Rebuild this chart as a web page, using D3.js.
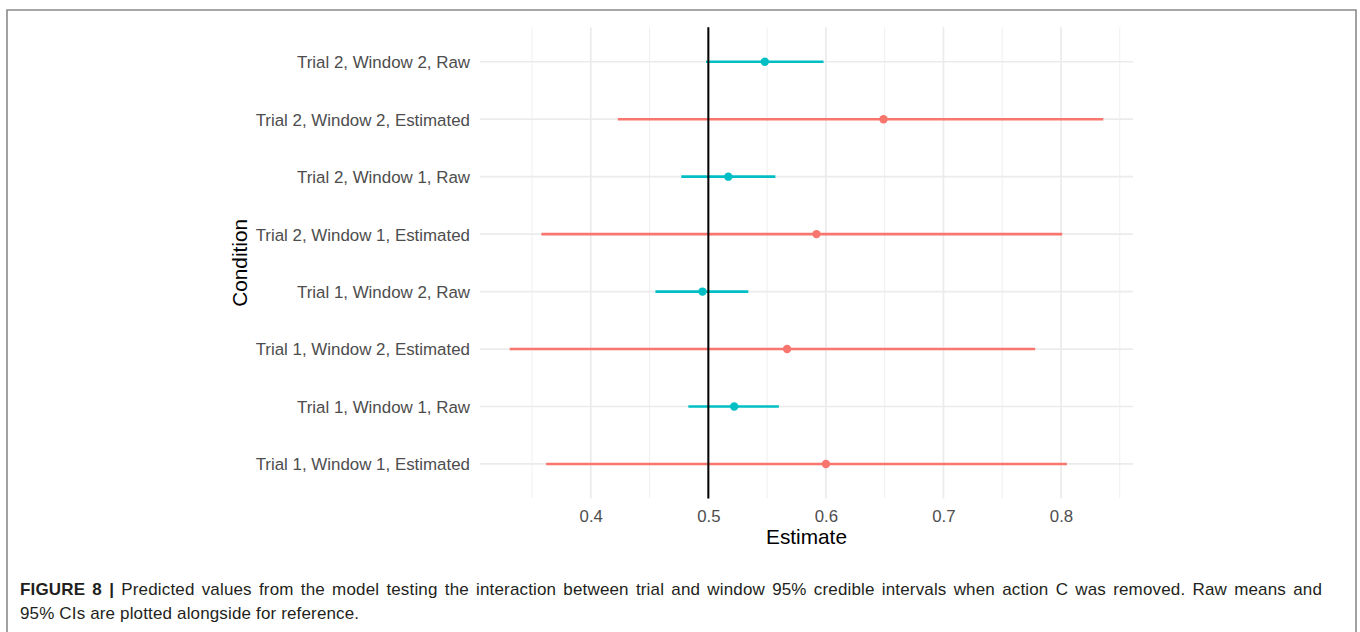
<!DOCTYPE html>
<html>
<head>
<meta charset="utf-8">
<script src="https://cdn.jsdelivr.net/npm/d3@7"></script>
<style>
  html, body { margin: 0; padding: 0; background: #fff; }
  svg { display: block; }
</style>
</head>
<body>
<svg id="chart" width="1360" height="632"></svg>
<script>
// ---- data (bottom-to-top order as in the plot) ----
const conditions = [
  "Trial 1, Window 1, Estimated",
  "Trial 1, Window 1, Raw",
  "Trial 1, Window 2, Estimated",
  "Trial 1, Window 2, Raw",
  "Trial 2, Window 1, Estimated",
  "Trial 2, Window 1, Raw",
  "Trial 2, Window 2, Estimated",
  "Trial 2, Window 2, Raw"
];
const types = ["Estimated", "Raw", "Estimated", "Raw", "Estimated", "Raw", "Estimated", "Raw"];
const estimates = [0.600, 0.522, 0.567, 0.495, 0.592, 0.517, 0.649, 0.548];
const lowers    = [0.362, 0.483, 0.331, 0.455, 0.358, 0.477, 0.423, 0.498];
const uppers    = [0.805, 0.560, 0.778, 0.534, 0.801, 0.557, 0.836, 0.598];
const xTicks = [0.4, 0.5, 0.6, 0.7, 0.8];
const xMinor = [0.35, 0.45, 0.55, 0.65, 0.75, 0.85];
const refValue = 0.5;
const captionBold = "FIGURE 8 |";
const captionLine1 = " Predicted values from the model testing the interaction between trial and window 95% credible intervals when action C was removed. Raw means and";
const captionLine2 = "95% CIs are plotted alongside for reference.";

const rows = conditions.map((c, i) => ({
  cond: c, type: types[i], est: estimates[i], lo: lowers[i], hi: uppers[i]
}));

const svg = d3.select("#chart");
const FONT = "'Liberation Sans', Arial, Helvetica, sans-serif";

// outer frame (figure border)
svg.append("path")
  .attr("d", "M7,640 L7,10 L1356,10 L1356,640")
  .attr("fill", "none").attr("stroke", "#8a8a8a").attr("stroke-width", 1.6);

const panel = { left: 480, right: 1133, top: 27.3, bottom: 498.4 };

const lo = d3.min(lowers), hi = d3.max(uppers);
const pad = (hi - lo) * 0.05;
const x = d3.scaleLinear().domain([lo - pad, hi + pad]).range([panel.left, panel.right]);
const y = d3.scalePoint().domain(conditions).range([panel.bottom, panel.top]).padding(0.6);
const color = d3.scaleOrdinal().domain(["Estimated", "Raw"]).range(["#F8766D", "#00BFC4"]);

const g = svg.append("g");

// minor grid
g.selectAll("line.minor").data(xMinor).join("line")
  .attr("x1", d => x(d)).attr("x2", d => x(d))
  .attr("y1", panel.top).attr("y2", panel.bottom)
  .attr("stroke", "#ededed").attr("stroke-width", 0.9);
// major grid vertical
g.selectAll("line.majx").data(xTicks).join("line")
  .attr("x1", d => x(d)).attr("x2", d => x(d))
  .attr("y1", panel.top).attr("y2", panel.bottom)
  .attr("stroke", "#ebebeb").attr("stroke-width", 1.7);
// major grid horizontal
g.selectAll("line.majy").data(conditions).join("line")
  .attr("x1", panel.left).attr("x2", panel.right)
  .attr("y1", d => y(d)).attr("y2", d => y(d))
  .attr("stroke", "#ebebeb").attr("stroke-width", 1.7);

// x axis (labels only)
const xAxis = d3.axisBottom(x).tickValues(xTicks).tickSize(0).tickPadding(0).tickFormat(d3.format(".1f"));
const xg = svg.append("g").attr("transform", `translate(0,${panel.bottom})`).call(xAxis);
xg.select(".domain").remove();
xg.selectAll("text")
  .attr("dy", null).attr("y", 24)
  .attr("font-family", FONT).attr("font-size", 16.8).attr("fill", "#4d4d4d");

// y axis (labels only)
const yAxis = d3.axisLeft(y).tickSize(0).tickPadding(0);
const yg = svg.append("g").attr("transform", `translate(${panel.left - 10},0)`).call(yAxis);
yg.select(".domain").remove();
yg.selectAll("text")
  .attr("dy", "0.35em").attr("x", 0)
  .attr("font-family", FONT).attr("font-size", 16.9).attr("fill", "#4d4d4d");

// pointranges
const pr = g.selectAll("g.pr").data(rows).join("g");
pr.append("line")
  .attr("x1", d => x(d.lo)).attr("x2", d => x(d.hi))
  .attr("y1", d => y(d.cond)).attr("y2", d => y(d.cond))
  .attr("stroke", d => color(d.type)).attr("stroke-width", 2.6);
pr.append("circle")
  .attr("cx", d => x(d.est)).attr("cy", d => y(d.cond)).attr("r", 4.2)
  .attr("fill", d => color(d.type));

// reference vertical line
g.append("line")
  .attr("x1", x(refValue)).attr("x2", x(refValue))
  .attr("y1", panel.top).attr("y2", panel.bottom)
  .attr("stroke", "#000").attr("stroke-width", 2);

// axis titles
svg.append("text")
  .attr("x", (panel.left + panel.right) / 2).attr("y", 544)
  .attr("text-anchor", "middle")
  .attr("font-family", FONT).attr("font-size", 20.8).attr("fill", "#000")
  .text("Estimate");
svg.append("text")
  .attr("transform", `translate(247,${(panel.top + panel.bottom) / 2}) rotate(-90)`)
  .attr("text-anchor", "middle")
  .attr("font-family", FONT).attr("font-size", 20.8).attr("fill", "#000")
  .text("Condition");

// caption (justified first line)
const CAP_SIZE = 17;
const CAP_LS = 0.15;
const cap = svg.append("text")
  .attr("x", 20).attr("y", 595)
  .attr("font-family", FONT).attr("font-size", CAP_SIZE).attr("fill", "#231f20")
  .attr("letter-spacing", CAP_LS);
cap.append("tspan").attr("font-weight", "bold").text(captionBold);
cap.append("tspan").text(captionLine1);
svg.append("text")
  .attr("x", 20).attr("y", 619)
  .attr("font-family", FONT).attr("font-size", CAP_SIZE).attr("fill", "#231f20")
  .attr("letter-spacing", CAP_LS)
  .text(captionLine2);
const target1 = 1302;
const w1 = cap.node().getComputedTextLength();
const nSpaces = (captionBold + captionLine1).split(" ").length - 1;
cap.attr("word-spacing", Math.max(0, (target1 - w1) / nSpaces));
</script>
</body>
</html>
